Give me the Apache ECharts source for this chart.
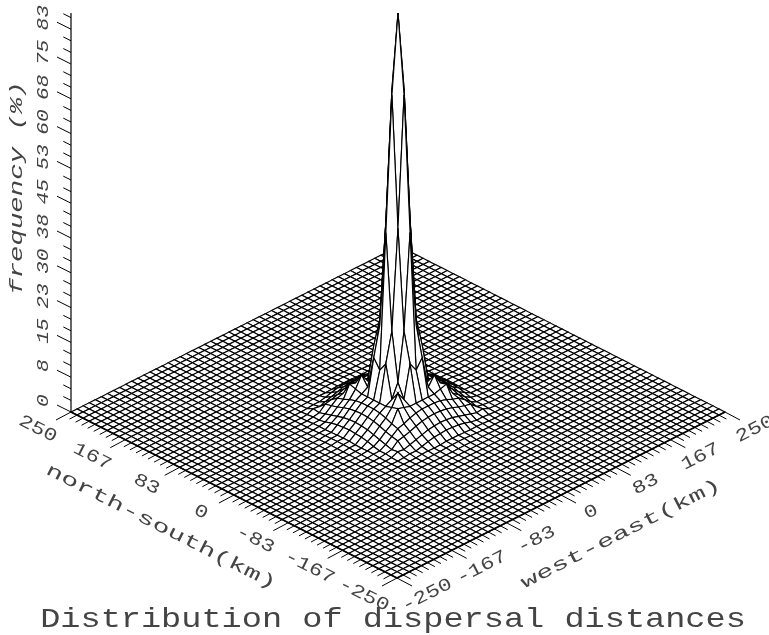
<!DOCTYPE html>
<html><head><meta charset="utf-8">
<style>html,body{margin:0;padding:0;background:#fff}#c{width:769px;height:635px}</style>
<script src="https://cdn.jsdelivr.net/npm/echarts@6/dist/echarts.min.js"></script>
</head><body><div id="c"></div>
<script>
// ---- data ----
const chartTitle = 'Distribution of dispersal distances';
const zTitle = 'frequency (%)';
const nsTitle = 'north-south(km)';
const weTitle = 'west-east(km)';
const kmTickLabels = ['250','167','83','0','-83','-167','-250'];
const kmTickValues = [250,166.67,83.33,0,-83.33,-166.67,-250];
const zTickLabels = ['0','8','15','23','30','38','45','53','60','68','75','83'];
const zTickValues = [0,7.5,15,22.5,30,37.5,45,52.5,60,67.5,75,82.5];
const cellsPerSide = 54;      // grid cells across 500 km
// frequency (%) at grid offset (i,j), i>=j, by symmetry for the other octants
const octant = [
  [86],
  [69,41],
  [40,19.4,9],
  [11,13,6,8],
  [5.2,5.2,5.2,5.6,6],
  [4.6,4.6,4.4,4,3.4,3],
  [3.6,3.5,3.3,2.9,2.4,2,1.7],
  [2.4,2.3,2.1,1.7,1.3,.9,.5,.7],
  [1.4,1.3,1.2,.9,.5,.2,.25,.1,0],
  [.3,.3,.2,.15,.2,.15,.05,0,0,0],
  [.25,.25,.2,.1,.05,0,0,0,0,0,0],
  [.05,.05,0,0,0,0,0,0,0,0,0,0]
];
// ---- projection of (west-east km, north-south km, %) onto the page ----
const B = [397,578], WE = [328,-166], NS = [-326,-166], ZP = 382.8/82.5;
function proj(we, ns, z){
  const a=(we+250)/500, b=(ns+250)/500;
  return [B[0]+a*WE[0]+b*NS[0], B[1]+a*WE[1]+b*NS[1]-z*ZP];
}
function freq(i,j){
  let a=Math.abs(i), b=Math.abs(j); if(b>a){const t=a;a=b;b=t;}
  return a<octant.length ? octant[a][b] : 0;
}
const half = cellsPerSide/2, step = 500/cellsPerSide;
const quads=[];
for(let i=-half;i<half;i++) for(let j=-half;j<half;j++) quads.push([i,j]);
quads.sort((p,q)=>(q[0]+q[1])-(p[0]+p[1]));   // far cells first, near cells paint over

const nTicks=[]; // floor ticks
for(let i=0;i<=cellsPerSide;i++) nTicks.push(250-i*step);
const zMinor=[]; for(let k=0;k<=34;k++) zMinor.push(k*2.5);

function pt(api,p){return api.coord(p);}
const ink='#000';
const surface={type:'custom',coordinateSystem:'cartesian2d',silent:true,clip:false,
  progressive:0,data:quads,animation:false,z:3,
  renderItem(params,api){
    const i=api.value(0), j=api.value(1);
    const c=[[i,j],[i+1,j],[i+1,j+1],[i,j+1]].map(q=>pt(api,proj(q[0]*step,q[1]*step,freq(q[0],q[1]))));
    return {type:'polygon',shape:{points:c},style:{fill:'#fff',stroke:ink,lineWidth:1.15}};
  },encode:{x:0,y:1}};

function seg(api,a,b,w,col){
  const p=pt(api,a),q=pt(api,b);
  return {type:'line',shape:{x1:p[0],y1:p[1],x2:q[0],y2:q[1]},style:{stroke:col||ink,lineWidth:w||1}};
}
const axes={type:'custom',coordinateSystem:'cartesian2d',silent:true,clip:false,z:4,animation:false,
  data:[[0]],encode:{x:0},
  renderItem(params,api){
    const kids=[];
    const l=proj(-250,250,0), f=proj(-250,-250,0), r=proj(250,-250,0);
    kids.push(seg(api,l,f,1.6), seg(api,f,r,1.6));
    kids.push(seg(api,l,[l[0],13],1.2));
    // floor ticks
    nTicks.forEach((v,idx)=>{
      const major=idx%9===0, m=major?1:0.5;
      const a=proj(-250,v,0); kids.push(seg(api,a,[a[0]-15*m,a[1]+8*m]));
      const b=proj(-v,-250,0); kids.push(seg(api,b,[b[0]+15*m,b[1]+8*m]));
    });
    // height ticks
    zMinor.forEach((v,idx)=>{
      const major=idx%3===0, m=major?1:0.55;
      const a=proj(-250,250,v); kids.push(seg(api,a,[a[0]-14*m,a[1]-7*m]));
    });
    // labels
    const txt=(s,x,y,rot,size,sx,italic)=>{const p=pt(api,[x,y]);return {type:'text',x:p[0],y:p[1],rotation:rot,scaleX:sx,
      style:{text:s,fontFamily:'Liberation Mono',fontSize:size,fontStyle:italic?'italic':'normal',fill:'#444',align:'center',verticalAlign:'middle'}};};
    const R=Math.atan2(166,327);
    kmTickLabels.forEach((s,k)=>{
      const a=proj(-250,kmTickValues[k],0); kids.push(txt(s,a[0]-33,a[1]+17,-R,18,1.25));
      const b=proj(-kmTickValues[k],-250,0); kids.push(txt(kmTickLabels[6-k],b[0]+30,b[1]+17,R,18,1.25));
    });
    zTickLabels.forEach((s,k)=>{
      const a=proj(-250,250,zTickValues[k]); kids.push(txt(s,43,a[1]-11.5,Math.PI/2,17,1.25,true));
    });
    kids.push(txt(zTitle,17,188,Math.PI/2,18,1.52,true));
    kids.push(txt(nsTitle,161,527,-R,18,1.58));
    kids.push(txt(weTitle,621,534,R,18,1.58));
    kids.push(txt(chartTitle,393,620,0,28,1.2));
    return {type:'group',children:kids};
  }};

const chart=echarts.init(document.getElementById('c'),null,{renderer:'canvas'});
chart.setOption({animation:false,backgroundColor:'#fff',
  grid:{left:0,right:0,top:0,bottom:0},
  xAxis:{type:'value',min:0,max:769,show:false},
  yAxis:{type:'value',min:0,max:635,inverse:true,show:false},
  tooltip:{show:false},
  series:[surface,axes]});
</script></body></html>
